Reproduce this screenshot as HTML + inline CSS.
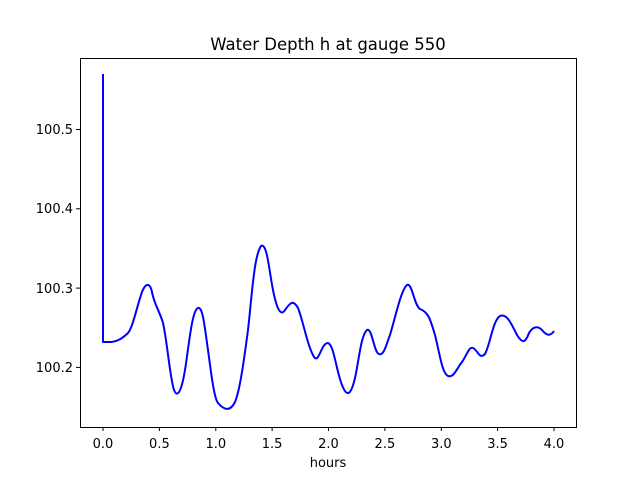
<!DOCTYPE html>
<html><head><meta charset="utf-8"><style>
html,body{margin:0;padding:0;background:#fff;}
svg{display:block;font-family:"DejaVu Sans","Liberation Sans",sans-serif;}
</style></head><body>
<svg width="640" height="480" viewBox="0 0 640 480" xmlns="http://www.w3.org/2000/svg">
<rect width="640" height="480" fill="#fff"/>
<text x="328" y="50" font-size="16.5" text-anchor="middle">Water Depth h at gauge 550</text>
<path fill="none" stroke="#0000ff" stroke-width="2" stroke-linejoin="round" d="M103,74 L103,342 L110,342 C116,342 122,339 128,333 C133,327 137,306 142,292 C146,282 150,283 152,292 C154,304 160,312 163,323 C167,340 170,378 174,390 C178,400 182,388 185,370 C189,345 192,310 198,308 C203,306 205,330 208,350 C211,372 214,398 218,403 C224,410 230,412 235,402 C240,390 244,360 248,330 C252,295 254,256 261,246 C267,242 269,270 273,290 C276,305 280,318 285,310 C290,303 293,299 298,308 C303,320 307,345 314,357 C319,364 321,343 328,343 C334,345 336,370 342,385 C347,398 351,395 355,378 C359,360 361,335 367,330 C372,327 374,353 379,354 C384,356 386,345 390,335 C396,315 401,290 407,285 C412,282 414,305 420,309 C428,312 430,318 435,335 C440,355 442,373 448,376 C454,378 457,368 462,362 C467,355 469,346 473,348 C478,350 479,360 485,354 C490,345 493,320 500,316 C507,313 512,325 517,335 C522,343 525,344 529,333 C533,326 538,326 542,330 C546,335 550,337 554,331"/>
<rect x="80.5" y="58.5" width="496" height="369" fill="none" stroke="#000" stroke-width="1"/>
<g stroke="#000" stroke-width="1">
<line x1="103" y1="427" x2="103" y2="431"/><line x1="159.4" y1="427" x2="159.4" y2="431"/><line x1="215.8" y1="427" x2="215.8" y2="431"/><line x1="272.1" y1="427" x2="272.1" y2="431"/><line x1="328.5" y1="427" x2="328.5" y2="431"/><line x1="384.9" y1="427" x2="384.9" y2="431"/><line x1="441.3" y1="427" x2="441.3" y2="431"/><line x1="497.6" y1="427" x2="497.6" y2="431"/><line x1="554" y1="427" x2="554" y2="431"/>
<line x1="76" y1="129.5" x2="80" y2="129.5"/><line x1="76" y1="208.8" x2="80" y2="208.8"/><line x1="76" y1="288.1" x2="80" y2="288.1"/><line x1="76" y1="367.4" x2="80" y2="367.4"/>
</g>
<g font-size="13" text-anchor="middle">
<text x="103" y="448">0.0</text><text x="159.4" y="448">0.5</text><text x="215.8" y="448">1.0</text><text x="272.1" y="448">1.5</text><text x="328.5" y="448">2.0</text><text x="384.9" y="448">2.5</text><text x="441.3" y="448">3.0</text><text x="497.6" y="448">3.5</text><text x="554" y="448">4.0</text>
<text x="328" y="467">hours</text>
</g>
<g font-size="13" text-anchor="end">
<text x="73" y="134">100.5</text><text x="73" y="213">100.4</text><text x="73" y="293">100.3</text><text x="73" y="372">100.2</text>
</g>
</svg>
</body></html>
